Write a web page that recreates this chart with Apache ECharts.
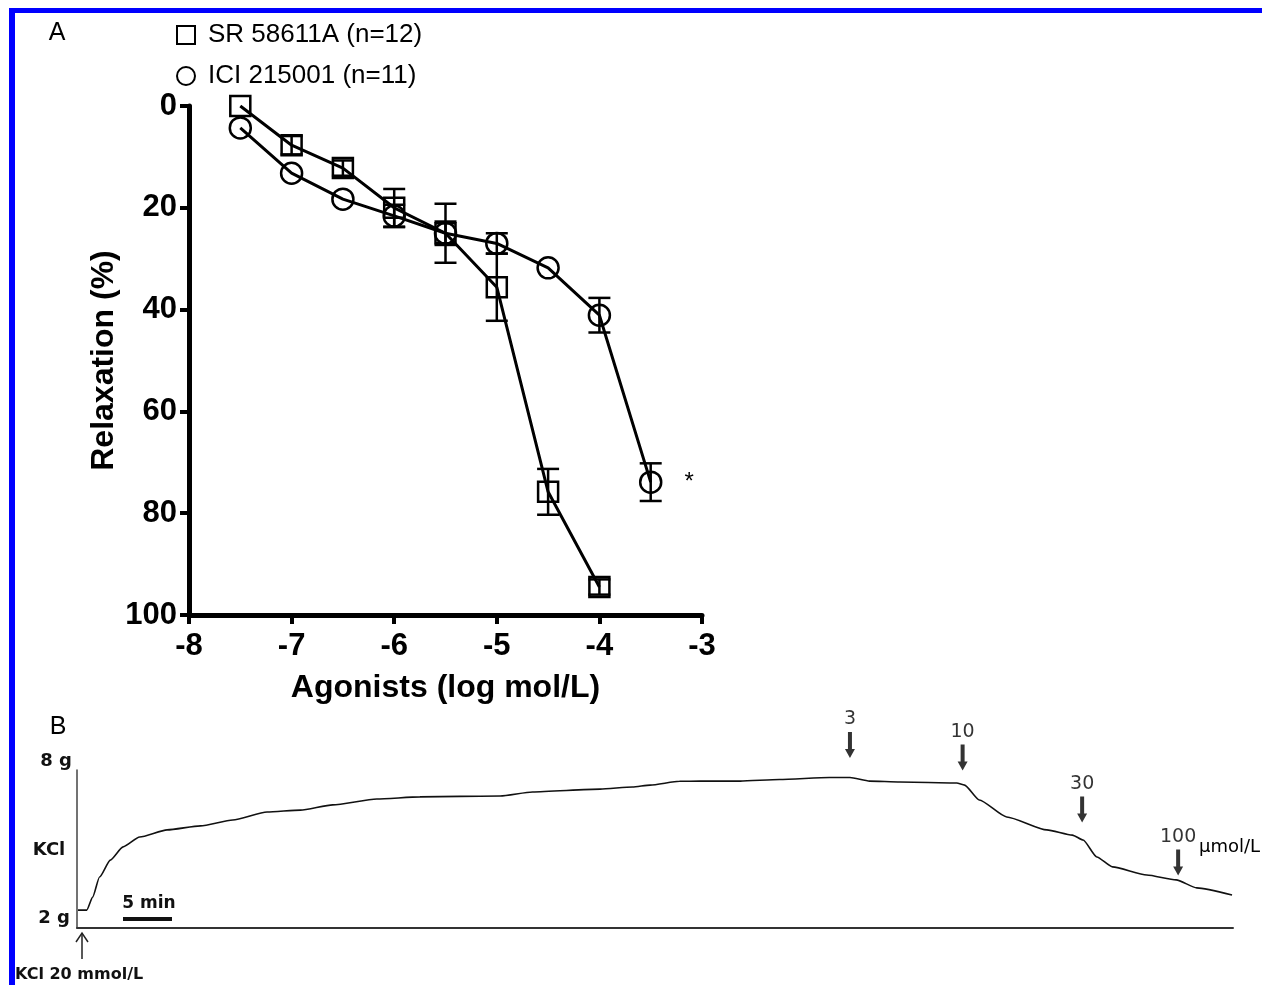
<!DOCTYPE html>
<html>
<head>
<meta charset="utf-8">
<script src="https://cdn.jsdelivr.net/npm/echarts@6/dist/echarts.min.js"></script>
<style>
  html, body { margin: 0; padding: 0; background: #fff; }
  #main { width: 1262px; height: 985px; }
</style>
</head>
<body>
<div id="main"></div>
<script>
/*
 * Panel A: concentration-response (log mol/L vs relaxation %)
 */
var logConc = [-7.5, -7, -6.5, -6, -5.5, -5, -4.5, -4, -3.5];

var srName = 'SR 58611A (n=12)';
var srMean = [0, 7.7, 12.2, 20, 25, 35.6, 75.8, 94.5];
var srSem  = [0, 1.8, 1.5, 3.7, 5.8, 6.6, 4.5, 1.5];

var iciName = 'ICI 215001 (n=11)';
var iciMean = [4.3, 13.2, 18.3, 21.6, 25, 27, 31.8, 41.1, 73.9];
var iciSem  = [0, 0, 0, 2.2, 2.3, 2, 0, 3.4, 3.7];

/*
 * Panel B: tension trace (time in min, tension in g)
 */
var traceTime = [0.1, 1.0, 1.6, 2.3, 3.4, 4.7, 6.4, 9.2, 12.6, 15.9, 19.4, 22.8, 26.1, 30.6, 35.0,
                 39.1, 43.2, 46.5, 53.4, 56.7, 58.5, 61.5, 63.6, 67.7, 71.7, 76.8, 78.9, 80.9, 84.0,
                 89.8, 90.6, 92.1, 94.9, 99.0, 101.6, 102.7, 104.1, 105.7, 109.2, 112.2, 114.3, 117.9];
var traceTension = [2.06, 2.06, 2.61, 3.46, 4.18, 4.74, 5.16, 5.46, 5.63, 5.88, 6.22, 6.30, 6.52, 6.77, 6.86,
                    6.88, 6.90, 7.07, 7.19, 7.28, 7.36, 7.52, 7.53, 7.53, 7.60, 7.68, 7.68, 7.53, 7.49,
                    7.45, 7.36, 6.73, 6.01, 5.46, 5.24, 5.03, 4.31, 3.89, 3.55, 3.34, 3.00, 2.70];

// dose additions (umol/L), arrows drawn above the trace
var doseLabel = ['3', '10', '30', '100'];
var doseTime  = [78.9, 90.4, 102.6, 112.4];
var doseLevel = [9.06, 8.53, 6.33, 4.08];

var FONT_A = 'Liberation Sans';
var FONT_B = 'DejaVu Sans';

function pairs(xs, ys) {
    var res = [];
    for (var i = 0; i < ys.length; i++) {
        res.push([xs[i], ys[i]]);
    }
    return res;
}

function errData(xs, mean, sem) {
    var res = [];
    for (var i = 0; i < mean.length; i++) {
        if (sem[i] > 0) {
            res.push([xs[i], mean[i] - sem[i], mean[i] + sem[i]]);
        }
    }
    return res;
}

function renderErr(params, api) {
    var x = api.value(0);
    var lo = api.coord([x, api.value(1)]);
    var hi = api.coord([x, api.value(2)]);
    var w = 11;
    var st = { stroke: '#000', lineWidth: 2.5 };
    return {
        type: 'group',
        children: [
            { type: 'line', shape: { x1: lo[0], y1: lo[1], x2: hi[0], y2: hi[1] }, style: st },
            { type: 'line', shape: { x1: lo[0] - w, y1: lo[1], x2: lo[0] + w, y2: lo[1] }, style: st },
            { type: 'line', shape: { x1: hi[0] - w, y1: hi[1], x2: hi[0] + w, y2: hi[1] }, style: st }
        ]
    };
}

var iciData = pairs(logConc, iciMean);
// significance mark on the last ICI point
iciData[iciData.length - 1] = {
    value: iciData[iciData.length - 1],
    label: { show: true, formatter: '*', position: 'right', distance: 22, fontSize: 24, color: '#000', fontFamily: FONT_A, padding: [8, 0, 0, 0] }
};

var doseData = [];
for (var i = 0; i < doseTime.length; i++) {
    doseData.push({ value: [doseTime[i], doseLevel[i]], name: doseLabel[i] });
}

var arrowPath = 'path://M3,0 L7,0 L7,17 L10,17 L5,26 L0,17 L3,17 Z';

var axisBold = { fontSize: 31, fontWeight: 'bold', color: '#000', fontFamily: FONT_A };

var option = {
    backgroundColor: '#fff',
    animation: false,
    legend: {
        orient: 'vertical',
        left: 176,
        top: 22,
        padding: 0,
        itemGap: 15,
        itemWidth: 18,
        itemHeight: 18,
        data: [{ name: srName, icon: 'rect' }, { name: iciName, icon: 'circle' }],
        itemStyle: { color: 'rgba(0,0,0,0)', borderColor: '#000', borderWidth: 2 },
        textStyle: { fontSize: 26, color: '#000', fontFamily: FONT_A, padding: [0, 0, 0, 8] }
    },
    grid: [
        { left: 189, top: 106, width: 513, height: 509 },
        { left: 77, top: 770, width: 1156, height: 158 }
    ],
    xAxis: [{
        gridIndex: 0,
        type: 'value',
        min: -8,
        max: -3,
        interval: 1,
        name: 'Agonists (log mol/L)',
        nameLocation: 'middle',
        nameGap: 57,
        nameTextStyle: { fontSize: 32, fontWeight: 'bold', color: '#000', fontFamily: FONT_A },
        axisLine: { onZero: false, lineStyle: { color: '#000', width: 5 } },
        axisTick: { length: 9, lineStyle: { color: '#000', width: 4 } },
        axisLabel: Object.assign({ margin: 16 }, axisBold),
        splitLine: { show: false }
    }, {
        gridIndex: 1,
        type: 'value',
        min: 0,
        max: 118,
        axisLine: { onZero: false, lineStyle: { color: '#333', width: 2 } },
        axisTick: { show: false },
        axisLabel: { show: false },
        splitLine: { show: false }
    }],
    yAxis: [{
        gridIndex: 0,
        type: 'value',
        inverse: true,
        min: 0,
        max: 100,
        interval: 20,
        name: 'Relaxation (%)',
        nameLocation: 'middle',
        nameGap: 69,
        nameTextStyle: { fontSize: 32, fontWeight: 'bold', color: '#000', fontFamily: FONT_A },
        axisLine: { onZero: false, lineStyle: { color: '#000', width: 5 } },
        axisTick: { length: 9, lineStyle: { color: '#000', width: 4 } },
        axisLabel: Object.assign({ margin: 12 }, axisBold),
        splitLine: { show: false }
    }, {
        gridIndex: 1,
        type: 'value',
        min: 1.3,
        max: 8,
        axisLine: { onZero: false, lineStyle: { color: '#444', width: 1.5 } },
        axisTick: { show: false },
        axisLabel: { show: false },
        splitLine: { show: false }
    }],
    series: [{
        name: srName,
        type: 'line',
        xAxisIndex: 0,
        yAxisIndex: 0,
        data: pairs(logConc, srMean),
        symbol: 'rect',
        symbolSize: 20,
        lineStyle: { color: '#000', width: 3 },
        itemStyle: { color: 'rgba(0,0,0,0)', borderColor: '#000', borderWidth: 2.5 },
        z: 3
    }, {
        name: iciName,
        type: 'line',
        xAxisIndex: 0,
        yAxisIndex: 0,
        data: iciData,
        symbol: 'circle',
        symbolSize: 21,
        lineStyle: { color: '#000', width: 3 },
        itemStyle: { color: 'rgba(0,0,0,0)', borderColor: '#000', borderWidth: 2.5 },
        z: 3
    }, {
        name: srName + ' sem',
        type: 'custom',
        xAxisIndex: 0,
        yAxisIndex: 0,
        renderItem: renderErr,
        encode: { x: 0, y: [1, 2] },
        data: errData(logConc, srMean, srSem),
        z: 4
    }, {
        name: iciName + ' sem',
        type: 'custom',
        xAxisIndex: 0,
        yAxisIndex: 0,
        renderItem: renderErr,
        encode: { x: 0, y: [1, 2] },
        data: errData(logConc, iciMean, iciSem),
        z: 4
    }, {
        name: 'trace',
        type: 'line',
        xAxisIndex: 1,
        yAxisIndex: 1,
        data: pairs(traceTime, traceTension),
        showSymbol: false,
        smooth: 0.2,
        smoothMonotone: 'x',
        lineStyle: { color: '#111', width: 1.6 }
    }, {
        name: 'doses',
        type: 'scatter',
        xAxisIndex: 1,
        yAxisIndex: 1,
        clip: false,
        data: doseData,
        symbol: arrowPath,
        symbolSize: [10, 26],
        itemStyle: { color: '#000' },
        label: {
            show: true,
            position: 'top',
            distance: 3,
            formatter: '{b}',
            fontSize: 19,
            color: '#000',
            fontFamily: FONT_B
        }
    }],
    graphic: [
        // blue frame
        { type: 'rect', shape: { x: 9, y: 8, width: 1253, height: 5 }, style: { fill: '#0000ff' } },
        { type: 'rect', shape: { x: 9, y: 8, width: 6, height: 977 }, style: { fill: '#0000ff' } },
        // panel letters
        { type: 'text', x: 57, y: 33, style: { text: 'A', fontSize: 25, fill: '#000', fontFamily: FONT_A, align: 'center', verticalAlign: 'middle' } },
        { type: 'text', x: 58, y: 727, style: { text: 'B', fontSize: 25, fill: '#000', fontFamily: FONT_A, align: 'center', verticalAlign: 'middle' } },
        // panel B labels
        { type: 'text', x: 56, y: 761, style: { text: '8 g', fontSize: 18, fontWeight: 'bold', fill: '#111', fontFamily: FONT_B, align: 'center', verticalAlign: 'middle' } },
        { type: 'text', x: 49, y: 850, style: { text: 'KCl', fontSize: 18, fontWeight: 'bold', fill: '#111', fontFamily: FONT_B, align: 'center', verticalAlign: 'middle' } },
        { type: 'text', x: 54, y: 918, style: { text: '2 g', fontSize: 18, fontWeight: 'bold', fill: '#111', fontFamily: FONT_B, align: 'center', verticalAlign: 'middle' } },
        { type: 'text', x: 149, y: 904, style: { text: '5 min', fontSize: 17, fontWeight: 'bold', fill: '#111', fontFamily: FONT_B, align: 'center', verticalAlign: 'middle' } },
        { type: 'rect', shape: { x: 123, y: 917, width: 49, height: 4 }, style: { fill: '#111' } },
        { type: 'text', x: 1199, y: 847, style: { text: 'μmol/L', fontSize: 18, fill: '#000', fontFamily: FONT_B, align: 'left', verticalAlign: 'middle' } },
        // KCl addition arrow
        { type: 'polyline', shape: { points: [[82, 959], [82, 933]] }, style: { stroke: '#222', lineWidth: 1.5, fill: null } },
        { type: 'polyline', shape: { points: [[76, 942], [82, 933], [88, 942]] }, style: { stroke: '#222', lineWidth: 1.5, fill: null } },
        { type: 'text', x: 15, y: 975, style: { text: 'KCl 20 mmol/L', fontSize: 16, fontWeight: 'bold', fill: '#111', fontFamily: FONT_B, align: 'left', verticalAlign: 'middle' } }
    ]
};

var chart = echarts.init(document.getElementById('main'));
chart.setOption(option);
</script>
</body>
</html>
